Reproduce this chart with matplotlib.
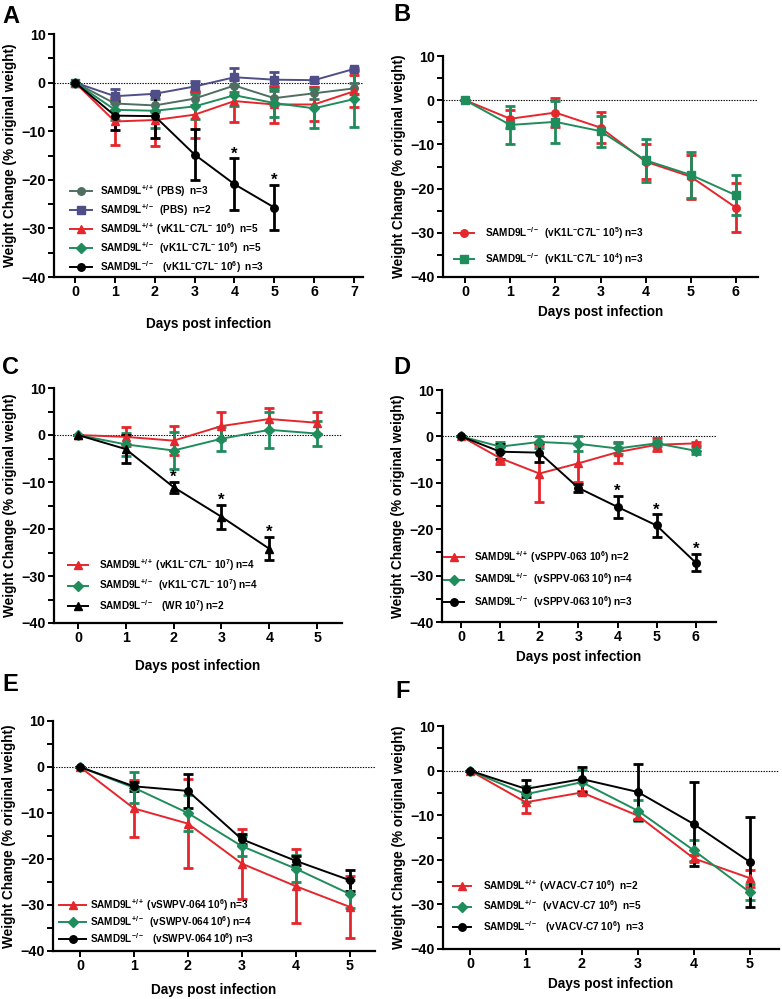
import numpy as np
import matplotlib
matplotlib.use('Agg')
import matplotlib.pyplot as plt
from matplotlib import font_manager
from matplotlib.legend import Legend

# ---------------- data ----------------
A_days = [0, 1, 2, 3, 4, 5, 6, 7]
A_days_ko = [0, 1, 2, 3, 4, 5]
A_pbs_wt = [0, -4.3, -4.7, -3.3, -0.6, -3.2, -2.2, -1.2]
A_pbs_wt_err = [0, 1.3, 1.3, 1.4, 1.4, 1.4, 1.2, 1.2]
A_pbs_het = [0, -2.8, -2.3, -0.8, 1.1, 0.6, 0.5, 2.8]
A_pbs_het_err = [0, 1.4, 0.3, 1.2, 1.9, 1.5, 0.3, 0.3]
A_vk_wt = [0, -8.0, -7.7, -6.6, -3.8, -4.5, -4.5, -1.8]
A_vk_wt_err = [0, 4.8, 5.4, 4.8, 4.3, 3.8, 3.5, 3.3]
A_vk_het = [0, -5.6, -5.8, -4.9, -2.6, -4.2, -5.3, -3.4]
A_vk_het_err = [0, 2.0, 3.5, 2.5, 2.2, 2.8, 4.0, 5.7]
A_vk_ko = [0, -6.8, -6.9, -14.8, -20.9, -25.7]
A_vk_ko_err = [0, 3.0, 4.6, 5.3, 5.3, 4.6]
A_stars = [4, 5]
A_labels = [r'SAMD9L$^{+/+}$ (PBS)  n=3',
            r'SAMD9L$^{+/-}$  (PBS)  n=2',
            r'SAMD9L$^{+/+}$ (vK1L$^{-}$C7L$^{-}$ 10$^{6}$)  n=5',
            r'SAMD9L$^{+/-}$  (vK1L$^{-}$C7L$^{-}$ 10$^{6}$)  n=5',
            r'SAMD9L$^{-/-}$   (vK1L$^{-}$C7L$^{-}$ 10$^{6}$)  n=3']

B_days = [0, 1, 2, 3, 4, 5, 6]
B_1e5 = [0, -4.2, -2.8, -6.2, -13.9, -17.3, -24.3]
B_1e5_err = [0, 2.0, 3.2, 3.5, 4.0, 5.0, 5.6]
B_1e4 = [0, -5.6, -4.9, -7.0, -13.6, -16.9, -21.5]
B_1e4_err = [0, 4.3, 4.7, 3.5, 4.8, 5.2, 4.5]
B_labels = [r'SAMD9L$^{-/-}$  (vK1L$^{-}$C7L$^{-}$ 10$^{5}$) n=3',
            r'SAMD9L$^{-/-}$  (vK1L$^{-}$C7L$^{-}$ 10$^{4}$) n=3']

C_days = [0, 1, 2, 3, 4, 5]
C_days_ko = [0, 1, 2, 3, 4]
C_wt = [0, -0.4, -1.2, 1.9, 3.4, 2.6]
C_wt_err = [0, 2.0, 3.1, 2.9, 2.4, 2.3]
C_het = [0, -2.0, -3.3, -0.8, 1.1, 0.3]
C_het_err = [0, 2.5, 3.9, 2.6, 3.8, 2.6]
C_ko = [0, -3.0, -11.1, -17.4, -24.2]
C_ko_err = [0, 2.9, 1.2, 2.6, 2.5]
C_stars = [2, 3, 4]
C_labels = [r'SAMD9L$^{+/+}$ (vK1L$^{-}$C7L$^{-}$ 10$^{7}$) n=4',
            r'SAMD9L$^{+/-}$  (vK1L$^{-}$C7L$^{-}$ 10$^{7}$) n=4',
            r'SAMD9L$^{-/-}$   (WR 10$^{7}$) n=2']

D_days = [0, 1, 2, 3, 4, 5, 6]
D_wt = [0, -4.7, -8.0, -5.8, -3.4, -1.8, -1.5]
D_wt_err = [0, 1.3, 6.2, 4.1, 2.3, 1.4, 0.3]
D_het = [0, -2.2, -1.2, -1.6, -2.6, -1.5, -3.1]
D_het_err = [0, 0.9, 1.2, 1.6, 1.2, 0.6, 0.8]
D_ko = [0, -3.3, -3.5, -11.1, -15.2, -19.2, -27.2]
D_ko_err = [0, 1.6, 2.1, 0.9, 2.4, 2.4, 1.9]
D_stars = [4, 5, 6]
D_labels = [r'SAMD9L$^{+/+}$ (vSPPV-063 10$^{6}$) n=2',
            r'SAMD9L$^{+/-}$  (vSPPV-063 10$^{6}$) n=4',
            r'SAMD9L$^{-/-}$  (vSPPV-063 10$^{6}$) n=3']

E_days = [0, 1, 2, 3, 4, 5]
E_wt = [0, -9.0, -12.3, -21.0, -25.9, -30.4]
E_wt_err = [0, 6.2, 9.6, 7.6, 8.1, 6.7]
E_het = [0, -4.5, -10.0, -17.2, -22.1, -27.6]
E_het_err = [0, 3.4, 4.0, 2.2, 3.0, 3.0]
E_ko = [0, -4.2, -5.2, -15.7, -20.4, -24.6]
E_ko_err = [0, 1.0, 3.7, 1.1, 1.0, 2.3]
E_labels = [r'SAMD9L$^{+/+}$ (vSWPV-064 10$^{6}$) n=3',
            r'SAMD9L$^{+/-}$  (vSWPV-064 10$^{6}$) n=4',
            r'SAMD9L$^{-/-}$   (vSWPV-064 10$^{6}$) n=3']

F_days = [0, 1, 2, 3, 4, 5]
F_wt = [0, -7.1, -4.9, -10.1, -19.7, -24.1]
F_wt_err = [0, 2.4, 0.4, 0.8, 0.8, 1.9]
F_het = [0, -5.3, -2.6, -9.0, -17.9, -27.3]
F_het_err = [0, 1.8, 2.7, 2.4, 2.3, 1.8]
F_ko = [0, -4.1, -1.9, -4.8, -12.0, -20.5]
F_ko_err = [0, 1.9, 2.8, 6.3, 9.4, 10.0]
F_labels = [r'SAMD9L$^{+/+}$ (vVACV-C7 10$^{6}$)  n=2',
            r'SAMD9L$^{+/-}$  (vVACV-C7 10$^{6}$)  n=5',
            r'SAMD9L$^{-/-}$   (vVACV-C7 10$^{6}$)  n=3']

Y_LABEL = 'Weight Change (% original weight)'
X_LABEL = 'Days post infection'

# ---------------- style ----------------
RED = '#e5262c'
GREEN = '#1f8c5c'
GREY = '#4f6e60'
PURPLE = '#4f4e88'
BLACK = '#000000'

def has_font(name):
    try:
        font_manager.findfont(font_manager.FontProperties(family=name), fallback_to_default=False)
        return True
    except Exception:
        return False

LEG_FAMILY = 'Liberation Sans Narrow' if has_font('Liberation Sans Narrow') else 'Liberation Sans'
plt.rcParams['font.family'] = ['Liberation Sans', 'DejaVu Sans']
plt.rcParams['font.weight'] = 'bold'
plt.rcParams['mathtext.fontset'] = 'custom'
for k in ['rm', 'it', 'bf', 'sf', 'tt', 'cal']:
    plt.rcParams['mathtext.' + k] = LEG_FAMILY + ':bold'
plt.rcParams['mathtext.default'] = 'bf'

W, H = 782, 999
fig = plt.figure(figsize=(W / 100, H / 100), dpi=100)
LEG_FS = 7.2
legprop = font_manager.FontProperties(family=[LEG_FAMILY, 'Liberation Sans'], weight='bold', size=LEG_FS)


def make_ax(left, right, top, bottom, xmin, xmax, xticks):
    ax = fig.add_axes([left / W, 1 - bottom / H, (right - left) / W, (bottom - top) / H])
    ax.set_xlim(xmin, xmax)
    ax.set_ylim(-40, 10)
    for s in ['top', 'right']:
        ax.spines[s].set_visible(False)
    for s in ['left', 'bottom']:
        ax.spines[s].set_linewidth(1.6)
    ax.set_yticks([-40, -30, -20, -10, 0, 10])
    ax.set_yticks([-35, -25, -15, -5, 5], minor=True)
    ax.set_xticks(xticks)
    ax.tick_params(axis='both', which='both', direction='out', length=4, width=1.4,
                   labelsize=10.3, pad=2)
    for t in ax.get_xticklabels() + ax.get_yticklabels():
        t.set_fontweight('bold')
    ax.axhline(0, color='black', lw=0.8, ls=(0, (1.2, 1.2)), zorder=1)
    return ax


def series(ax, x, y, e, color, marker, ms):
    ax.errorbar(x, y, yerr=e, fmt='none', ecolor=color, elinewidth=2.0,
                capsize=3.4, capthick=2.0, zorder=2)
    h, = ax.plot(x, y, color=color, marker=marker, ms=ms, lw=1.4, mec=color, mfc=color, zorder=3)
    return h


def stars(ax, x, y, e, days):
    for d in days:
        i = list(x).index(d)
        ax.annotate('*', (d, y[i] + e[i]), xytext=(0, 0), textcoords='offset points',
                    ha='center', va='baseline', fontsize=12, fontweight='bold')


def legend_rows(ax, handles, labels, x_px, y0_px, dy_px, hl_px, gap_px):
    fs_px = LEG_FS * 100 / 72
    for i, (h, l) in enumerate(zip(handles, labels)):
        yp = y0_px + i * dy_px
        leg = Legend(ax, [h], [l], loc='center left', bbox_to_anchor=(x_px / W, 1 - yp / H),
                     bbox_transform=fig.transFigure, frameon=False, borderpad=0,
                     borderaxespad=0, handlelength=hl_px / fs_px,
                     handletextpad=gap_px / fs_px, prop=legprop, numpoints=1)
        leg.set_zorder(5)
        ax.add_artist(leg)


def labels(ax, xpad, ypad):
    ax.set_xlabel(X_LABEL, fontsize=9.8, fontweight='bold', labelpad=xpad)
    ax.set_ylabel(Y_LABEL, fontsize=9.8, fontweight='bold', labelpad=ypad)


def letter(txt, x_px, y_px):
    fig.text(x_px / W, 1 - y_px / H, txt, fontsize=17, fontweight='bold', ha='left', va='top')


# ---------------- Panel A ----------------
axA = make_ax(54, 363, 34, 277, -0.53, 7.23, A_days)
hA = [series(axA, A_days, A_pbs_wt, A_pbs_wt_err, GREY, 'o', 5.4),
      series(axA, A_days, A_pbs_het, A_pbs_het_err, PURPLE, 's', 5.4),
      series(axA, A_days, A_vk_wt, A_vk_wt_err, RED, '^', 5.6),
      series(axA, A_days, A_vk_het, A_vk_het_err, GREEN, 'D', 4.6),
      series(axA, A_days_ko, A_vk_ko, A_vk_ko_err, BLACK, 'o', 5.4)]
stars(axA, A_days_ko, A_vk_ko, A_vk_ko_err, A_stars)
legend_rows(axA, hA, A_labels, 70, 191, 19, 22, 8)
labels(axA, 13, 3)
letter('A', 2, 5)

# ---------------- Panel B ----------------
axB = make_ax(443, 758, 56, 277, -0.49, 6.49, B_days)
hB = [series(axB, B_days, B_1e5, B_1e5_err, RED, 'o', 5.4),
      series(axB, B_days, B_1e4, B_1e4_err, GREEN, 's', 5.4)]
legend_rows(axB, hB, B_labels, 454, 233, 26, 20, 11)
labels(axB, 4, 3)
letter('B', 393, 3)

# ---------------- Panel C ----------------
axC = make_ax(54, 342, 388, 623, -0.5, 5.52, C_days)
hC = [series(axC, C_days, C_wt, C_wt_err, RED, '^', 5.6),
      series(axC, C_days, C_het, C_het_err, GREEN, 'D', 4.6),
      series(axC, C_days_ko, C_ko, C_ko_err, BLACK, '^', 5.6)]
stars(axC, C_days_ko, C_ko, C_ko_err, C_stars)
legend_rows(axC, hC, C_labels, 68, 565, 20.5, 20, 11)
labels(axC, 10, 3)
letter('C', 2, 356)

# ---------------- Panel D ----------------
axD = make_ax(442, 716, 390, 622, -0.49, 6.52, D_days)
hD = [series(axD, D_days, D_wt, D_wt_err, RED, '^', 5.6),
      series(axD, D_days, D_het, D_het_err, GREEN, 'D', 4.6),
      series(axD, D_days, D_ko, D_ko_err, BLACK, 'o', 5.4)]
stars(axD, D_days, D_ko, D_ko_err, D_stars)
legend_rows(axD, hD, D_labels, 444, 557, 22.5, 20, 10)
labels(axD, 4, 3)
letter('D', 393, 356)

# ---------------- Panel E ----------------
axE = make_ax(53, 375, 721, 951, -0.5, 5.47, E_days)
hE = [series(axE, E_days, E_wt, E_wt_err, RED, '^', 5.6),
      series(axE, E_days, E_het, E_het_err, GREEN, 'D', 4.6),
      series(axE, E_days, E_ko, E_ko_err, BLACK, 'o', 5.4)]
legend_rows(axE, hE, E_labels, 59, 905, 17, 27, 4)
labels(axE, 7, 3)
letter('E', 2, 673)

# ---------------- Panel F ----------------
axF = make_ax(443, 779, 726, 949, -0.48, 5.52, F_days)
hF = [series(axF, F_days, F_wt, F_wt_err, RED, '^', 5.6),
      series(axF, F_days, F_het, F_het_err, GREEN, 'D', 4.6),
      series(axF, F_days, F_ko, F_ko_err, BLACK, 'o', 5.4)]
legend_rows(axF, hF, F_labels, 453, 886, 20.5, 18, 12)
labels(axF, 4, 3)
letter('F', 395, 680)

fig.savefig('out.png', dpi=100)
